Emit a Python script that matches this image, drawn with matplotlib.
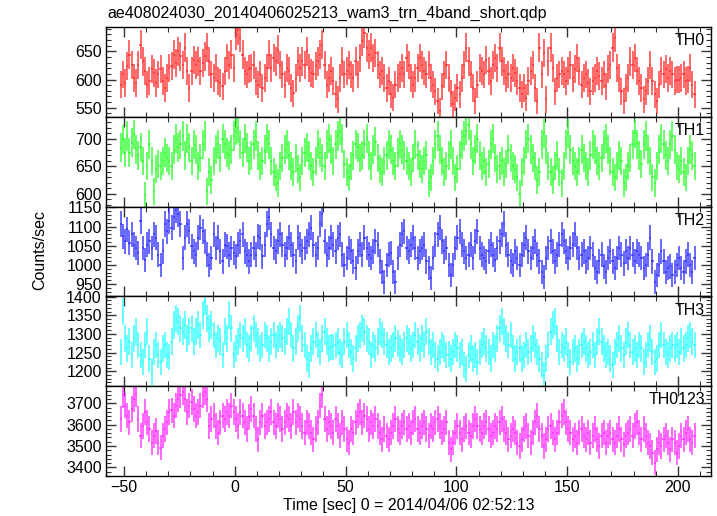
import numpy as np
import matplotlib
matplotlib.use("Agg")
import matplotlib.pyplot as plt
from matplotlib.ticker import MultipleLocator

plt.rcParams['font.family'] = ['Liberation Sans', 'DejaVu Sans']

title = "ae408024030_20140406025213_wam3_trn_4band_short.qdp"
xlabel = "Time [sec] 0 = 2014/04/06 02:52:13"
ylabel = "Counts/sec"

t_start = -51.5  # first bin centre, 1 s bins
bands = ["TH0", "TH1", "TH2", "TH3", "TH0123"]
colors = ["#ff3030", "#30ff30", "#3030ff", "#30ffff", "#ff30ff"]

th0 = [591, 609, 594, 624, 644, 626, 603, 594, 626, 662,
       632, 615, 591, 597, 618, 612, 594, 609, 618, 597,
       585, 603, 621, 624, 644, 629, 650, 641, 626, 656,
       615, 585, 615, 635, 626, 632, 615, 629, 641, 656,
       632, 609, 603, 621, 597, 594, 588, 615, 638, 626,
       644, 621, 679, 688, 674, 644, 615, 609, 618, 621,
       626, 597, 591, 609, 585, 603, 621, 644, 621, 638,
       632, 653, 626, 609, 591, 621, 615, 585, 576, 603,
       632, 621, 632, 626, 650, 621, 612, 609, 624, 632,
       644, 662, 626, 591, 603, 615, 597, 574, 565, 603,
       632, 609, 615, 626, 609, 603, 632, 609, 638, 668,
       682, 656, 644, 656, 638, 647, 626, 609, 615, 603,
       585, 597, 574, 568, 591, 603, 609, 621, 609, 638,
       626, 603, 591, 603, 621, 638, 626, 615, 609, 626,
       603, 591, 579, 562, 544, 588, 609, 626, 603, 576,
       556, 568, 585, 574, 603, 626, 656, 632, 609, 585,
       562, 591, 621, 615, 609, 635, 615, 597, 626, 638,
       621, 656, 632, 615, 603, 609, 603, 621, 612, 597,
       585, 574, 585, 568, 597, 615, 626, 585, 562, 656,
       609, 647, 565, 632, 656, 621, 579, 603, 609, 615,
       609, 597, 615, 626, 603, 618, 638, 615, 591, 603,
       609, 594, 579, 597, 603, 615, 606, 597, 609, 588,
       618, 626, 656, 674, 621, 603, 579, 562, 585, 603,
       632, 626, 638, 615, 597, 585, 565, 579, 597, 626,
       597, 574, 562, 591, 615, 609, 618, 603, 615, 609,
       597, 600, 600, 603, 609, 597, 600, 621, 591, 574]

th1 = [684, 699, 675, 705, 675, 693, 708, 681, 670, 685,
       660, 598, 650, 690, 660, 605, 645, 655, 650, 660,
       675, 665, 660, 650, 680, 700, 685, 690, 705, 670,
       700, 685, 660, 690, 680, 650, 665, 690, 705, 605,
       640, 625, 660, 680, 690, 665, 700, 690, 675, 670,
       680, 705, 715, 720, 690, 675, 700, 685, 660, 670,
       690, 705, 670, 650, 660, 680, 700, 690, 660, 640,
       630, 620, 650, 665, 680, 690, 670, 650, 640, 665,
       645, 630, 660, 675, 685, 670, 650, 640, 660, 690,
       675, 665, 650, 690, 700, 680, 660, 690, 705, 715,
       700, 655, 640, 630, 650, 670, 690, 685, 665, 670,
       690, 700, 670, 650, 680, 695, 665, 645, 640, 660,
       670, 690, 680, 660, 650, 675, 690, 680, 670, 660,
       650, 640, 665, 690, 670, 655, 645, 660, 670, 620,
       630, 660, 690, 705, 680, 660, 640, 650, 670, 690,
       660, 630, 645, 670, 690, 705, 715, 725, 690, 660,
       680, 700, 670, 650, 660, 640, 655, 690, 700, 665,
       645, 650, 660, 640, 655, 680, 665, 650, 645, 630,
       600, 640, 660, 690, 700, 680, 665, 650, 625, 640,
       690, 710, 680, 650, 640, 625, 650, 670, 640, 620,
       650, 690, 710, 680, 660, 650, 640, 660, 680, 665,
       650, 640, 670, 690, 680, 660, 650, 665, 690, 700,
       680, 660, 640, 630, 650, 670, 660, 620, 630, 650,
       665, 690, 710, 690, 670, 655, 690, 705, 680, 660,
       630, 620, 650, 680, 700, 690, 670, 660, 690, 705,
       680, 650, 645, 660, 640, 630, 660, 680, 670, 650]

th2 = [1106, 1075, 1062, 1093, 1058, 1080, 1053, 1044, 1031, 1115,
       1044, 1013, 1053, 1062, 1044, 1080, 1071, 1027, 1000, 1035,
       1106, 1088, 1115, 1097, 1124, 1142, 1133, 1106, 1018, 1071,
       1106, 1088, 1049, 1035, 1027, 1071, 1097, 1088, 1062, 1027,
       1000, 1018, 1080, 1044, 1071, 1035, 1009, 1053, 1049, 1027,
       1044, 1031, 1022, 1053, 1062, 1080, 1035, 1027, 1009, 1027,
       1044, 1027, 1075, 1071, 1022, 1053, 1106, 1124, 1080, 1044,
       1035, 1062, 1080, 1053, 1027, 1044, 1071, 1053, 1027, 1009,
       1071, 1053, 1035, 1044, 1062, 1080, 1097, 1053, 1027, 1044,
       1106, 1133, 1062, 1027, 1044, 1071, 1053, 1035, 1071, 1080,
       1027, 1000, 1018, 1044, 1035, 1009, 991, 1035, 1053, 1027,
       1071, 1044, 1027, 1018, 1035, 1062, 1053, 1009, 982, 956,
       1000, 1027, 1031, 982, 956, 1018, 1053, 1080, 1088, 1044,
       1035, 1053, 1071, 1044, 1018, 1035, 1044, 1053, 1009, 991,
       965, 1018, 1053, 1080, 1097, 1062, 1035, 1044, 1000, 973,
       1000, 1044, 1071, 1088, 1053, 1035, 1018, 1027, 1053, 1018,
       1062, 1088, 1044, 1027, 1018, 1009, 1035, 1053, 1027, 1013,
       1044, 1062, 1080, 1106, 1053, 1027, 1009, 1000, 1035, 1018,
       1000, 1027, 1053, 1071, 1035, 1018, 1044, 1062, 1027, 1009,
       982, 969, 1018, 1044, 1062, 1035, 1009, 1027, 1053, 1080,
       1062, 1035, 1018, 1044, 1053, 1080, 1044, 1018, 1027, 1035,
       1009, 1018, 1044, 1027, 991, 982, 1009, 1027, 996, 982,
       1018, 1035, 1009, 991, 1018, 1044, 1027, 1004, 1035, 1018,
       1044, 1027, 1009, 1035, 1027, 1018, 991, 1000, 1027, 1071,
       1009, 956, 973, 1000, 1035, 1009, 982, 991, 996, 973,
       982, 1000, 1018, 991, 982, 1009, 1027, 1000, 982, 1018]

th3 = [1252, 1360, 1288, 1261, 1279, 1243, 1288, 1306, 1270, 1243,
       1225, 1270, 1306, 1234, 1198, 1252, 1270, 1243, 1225, 1261,
       1270, 1243, 1238, 1279, 1324, 1342, 1333, 1315, 1306, 1324,
       1288, 1306, 1315, 1279, 1306, 1324, 1297, 1351, 1387, 1342,
       1315, 1324, 1297, 1270, 1288, 1279, 1243, 1306, 1288, 1351,
       1315, 1243, 1261, 1279, 1297, 1288, 1306, 1270, 1261, 1288,
       1315, 1297, 1279, 1261, 1270, 1297, 1288, 1261, 1279, 1297,
       1270, 1288, 1297, 1288, 1279, 1306, 1333, 1297, 1261, 1279,
       1315, 1342, 1288, 1270, 1234, 1216, 1261, 1279, 1297, 1270,
       1252, 1288, 1306, 1279, 1261, 1265, 1265, 1270, 1279, 1252,
       1243, 1279, 1297, 1270, 1252, 1234, 1261, 1288, 1297, 1315,
       1306, 1288, 1279, 1243, 1270, 1261, 1279, 1306, 1297, 1279,
       1270, 1252, 1261, 1270, 1288, 1274, 1261, 1252, 1270, 1288,
       1279, 1261, 1270, 1297, 1279, 1261, 1288, 1270, 1306, 1279,
       1252, 1270, 1243, 1234, 1252, 1270, 1261, 1243, 1247, 1234,
       1252, 1270, 1261, 1243, 1252, 1216, 1207, 1243, 1261, 1234,
       1243, 1225, 1252, 1270, 1279, 1261, 1252, 1234, 1270, 1261,
       1288, 1315, 1333, 1306, 1288, 1270, 1297, 1261, 1234, 1252,
       1261, 1234, 1243, 1270, 1252, 1261, 1288, 1270, 1252, 1234,
       1216, 1189, 1234, 1270, 1306, 1324, 1333, 1288, 1252, 1270,
       1261, 1279, 1243, 1225, 1252, 1261, 1234, 1252, 1270, 1279,
       1261, 1243, 1252, 1270, 1243, 1279, 1306, 1279, 1261, 1243,
       1252, 1234, 1216, 1252, 1270, 1288, 1261, 1243, 1279, 1297,
       1270, 1252, 1261, 1243, 1270, 1261, 1225, 1243, 1270, 1288,
       1252, 1225, 1234, 1270, 1297, 1270, 1252, 1243, 1261, 1270,
       1261, 1270, 1252, 1279, 1261, 1270, 1288, 1297, 1279, 1270]

th0123 = [3627, 3738, 3690, 3643, 3611, 3675, 3722, 3746, 3627, 3548,
          3595, 3659, 3611, 3579, 3516, 3548, 3571, 3516, 3492, 3548,
          3579, 3611, 3659, 3667, 3643, 3690, 3722, 3738, 3754, 3722,
          3659, 3690, 3706, 3675, 3643, 3659, 3690, 3738, 3754, 3722,
          3595, 3627, 3643, 3595, 3563, 3611, 3643, 3627, 3659, 3643,
          3690, 3659, 3627, 3595, 3659, 3643, 3611, 3579, 3635, 3675,
          3643, 3579, 3532, 3611, 3643, 3595, 3611, 3627, 3659, 3611,
          3595, 3643, 3627, 3579, 3611, 3643, 3627, 3595, 3659, 3611,
          3643, 3627, 3595, 3563, 3611, 3595, 3563, 3532, 3579, 3611,
          3690, 3738, 3627, 3579, 3611, 3595, 3563, 3627, 3595, 3548,
          3611, 3579, 3532, 3516, 3579, 3563, 3611, 3643, 3659, 3611,
          3643, 3627, 3579, 3611, 3595, 3627, 3595, 3563, 3532, 3579,
          3548, 3532, 3563, 3595, 3627, 3579, 3563, 3595, 3611, 3579,
          3595, 3563, 3611, 3627, 3579, 3563, 3595, 3611, 3579, 3548,
          3595, 3579, 3611, 3627, 3595, 3563, 3579, 3611, 3516, 3484,
          3516, 3563, 3595, 3563, 3532, 3579, 3595, 3563, 3548, 3595,
          3627, 3595, 3579, 3563, 3595, 3611, 3579, 3548, 3563, 3595,
          3579, 3611, 3627, 3579, 3563, 3532, 3548, 3579, 3563, 3516,
          3500, 3532, 3579, 3595, 3548, 3516, 3563, 3611, 3643, 3579,
          3548, 3500, 3532, 3579, 3595, 3563, 3532, 3563, 3611, 3643,
          3659, 3611, 3579, 3563, 3532, 3548, 3516, 3563, 3579, 3548,
          3532, 3563, 3516, 3548, 3579, 3532, 3500, 3548, 3563, 3516,
          3548, 3563, 3532, 3516, 3548, 3579, 3532, 3508, 3548, 3563,
          3579, 3548, 3595, 3611, 3563, 3532, 3579, 3548, 3516, 3500,
          3468, 3421, 3484, 3516, 3500, 3532, 3548, 3516, 3484, 3532,
          3516, 3468, 3500, 3548, 3532, 3563, 3579, 3532, 3516, 3548]

series = [th0, th1, th2, th3, th0123]
ylims = [(534, 693), (577, 740), (918, 1152), (1160, 1400.5), (3359, 3781)]
major_steps = [50, 50, 50, 50, 100]
minor_steps = [10, 10, 10, 10, 20]
xlim = (-58.1, 214.9)

W, H = 717, 516
fig = plt.figure(figsize=(W / 100, H / 100), dpi=100)
left, right = 106 / W, 711 / W
top_px, bot_px = 27, 476
ph = (bot_px - top_px) / 5

axes = []
for i, (name, vals, col, yl, mj, mn) in enumerate(
        zip(bands, series, colors, ylims, major_steps, minor_steps)):
    y0 = top_px + i * ph
    ax = fig.add_axes([left, 1 - (y0 + ph) / H, right - left, ph / H])
    v = np.asarray(vals, dtype=float)
    t = t_start + np.arange(len(v))
    ax.errorbar(t, v, xerr=0.5, yerr=np.sqrt(v), fmt='none',
                ecolor=col, elinewidth=1.2, capsize=0, alpha=0.85)
    ax.set_xlim(*xlim)
    ax.set_ylim(*yl)
    ax.xaxis.set_major_locator(MultipleLocator(50))
    ax.xaxis.set_minor_locator(MultipleLocator(10))
    ax.yaxis.set_major_locator(MultipleLocator(mj))
    ax.yaxis.set_minor_locator(MultipleLocator(mn))
    ax.tick_params(which='both', direction='in', top=True, right=True,
                   labelsize=11.5, color='#333333', pad=3)
    ax.tick_params(which='major', length=7, width=1)
    ax.tick_params(which='minor', length=3.5, width=0.8)
    for s in ax.spines.values():
        s.set_linewidth(1.0)
    if i < 4:
        ax.tick_params(labelbottom=False)
    ax.text(0.99, 0.93, name, transform=ax.transAxes, ha='right', va='top',
            fontsize=11.5)
    axes.append(ax)

axes[-1].set_xlabel(xlabel, fontsize=11.5, labelpad=2)
fig.text(40 / W, 1 - 250 / H, ylabel, rotation=90, ha='center', va='center',
         fontsize=11.5)
fig.text(107 / W, 1 - 13 / H, title, ha='left', va='center', fontsize=11.5)

fig.savefig("out.png", dpi=100)
